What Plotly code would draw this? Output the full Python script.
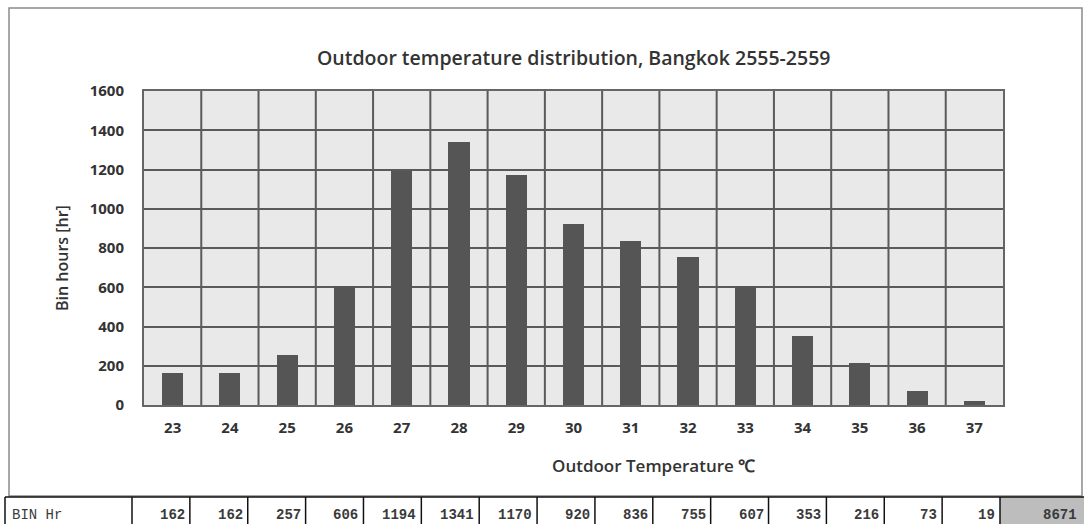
import plotly.graph_objects as go

# ---- data ----
temperatures = [23, 24, 25, 26, 27, 28, 29, 30, 31, 32, 33, 34, 35, 36, 37]
bin_hours = [162, 162, 257, 606, 1194, 1341, 1170, 920, 836, 755, 607, 353, 216, 73, 19]
y_ticks = [0, 200, 400, 600, 800, 1000, 1200, 1400, 1600]
title_text = "Outdoor temperature distribution, Bangkok 2555-2559"
x_title = "Outdoor Temperature ℃"
y_title = "Bin hours [hr]"
row_label = "BIN Hr"
total_hours = sum(bin_hours)

# ---- layout geometry (pixels) ----
W, H = 1084, 524
L, R, T, B = 144, 1003, 91, 405
pw, ph = R - L, B - T


def px(x):
    return (x - L) / pw


def py(y):
    return (B - y) / ph


GRID = "#5a5a5a"
TXT = "#333333"

fig = go.Figure()
fig.add_trace(go.Bar(
    x=temperatures, y=bin_hours, width=0.37,
    marker=dict(color="#555555", line=dict(width=0)),
    hoverinfo="x+y",
))

shapes = []
annotations = []

# outer chart frame
shapes.append(dict(type="rect", xref="paper", yref="paper",
                   x0=px(9), x1=px(1082), y0=py(496), y1=py(8),
                   line=dict(color="#8a8a8a", width=1.5), layer="below"))

# vertical grid lines between categories (data coordinates)
for t in temperatures[:-1]:
    shapes.append(dict(type="line", xref="x", yref="paper",
                       x0=t + 0.5, x1=t + 0.5, y0=0, y1=1,
                       line=dict(color=GRID, width=2), layer="below"))

# ---- bottom table ----
tbl_top, tbl_bot = 497, 540
first_left, first_right, last_right = 5, 132, 1000
cw = (last_right - first_right) / len(bin_hours)
# total cell fill
shapes.append(dict(type="rect", xref="paper", yref="paper",
                   x0=px(last_right), x1=px(1090), y0=py(tbl_bot), y1=py(tbl_top),
                   fillcolor="#bdbdbd", line=dict(width=0)))
shapes.append(dict(type="line", xref="paper", yref="paper",
                   x0=px(first_left), x1=px(1090), y0=py(tbl_top), y1=py(tbl_top),
                   line=dict(color="#111111", width=1.5)))
bounds = [first_left, first_right] + [first_right + cw * (i + 1) for i in range(len(bin_hours))]
for bx in bounds:
    shapes.append(dict(type="line", xref="paper", yref="paper",
                       x0=px(bx), x1=px(bx), y0=py(tbl_bot), y1=py(tbl_top),
                       line=dict(color="#111111", width=1.5)))

tfont = dict(family="Liberation Mono, DejaVu Sans Mono, monospace", size=14, color="#3a3a3a",
             weight="bold")
annotations.append(dict(xref="paper", yref="paper", x=px(10), y=py(515),
                        text=row_label, showarrow=False, xanchor="left", yanchor="middle",
                        font=dict(family="Liberation Mono, monospace", size=14, color="#3a3a3a")))
for i, v in enumerate(bin_hours):
    annotations.append(dict(xref="paper", yref="paper", x=px(bounds[i + 2] - 3), y=py(515),
                            text=str(v), showarrow=False, xanchor="right", yanchor="middle",
                            font=tfont))
annotations.append(dict(xref="paper", yref="paper", x=px(1079), y=py(515),
                        text=str(total_hours), showarrow=False, xanchor="right", yanchor="middle",
                        font=tfont))

# titles
annotations.append(dict(xref="paper", yref="paper", x=0.5, y=py(57),
                        text=title_text, showarrow=False, xanchor="center", yanchor="middle",
                        font=dict(family="Open Sans", size=19.5, color=TXT, weight=600)))
annotations.append(dict(xref="paper", yref="paper", x=px(653), y=py(465),
                        text=x_title, showarrow=False, xanchor="center", yanchor="middle",
                        font=dict(family="Open Sans", size=17, color=TXT, weight=600)))
annotations.append(dict(xref="paper", yref="paper", x=px(62), y=py(258),
                        text=y_title, showarrow=False, xanchor="center", yanchor="middle",
                        textangle=-90,
                        font=dict(family="Open Sans", size=16, color=TXT, weight=600)))

fig.update_layout(
    width=W, height=H,
    margin=dict(l=L, r=W - R, t=T, b=H - B, pad=0),
    paper_bgcolor="white",
    plot_bgcolor="#e9e9e9",
    showlegend=False,
    bargap=0,
    shapes=shapes,
    annotations=annotations,
    font=dict(family="Open Sans", color=TXT),
)
fig.update_xaxes(
    range=[temperatures[0] - 0.5, temperatures[-1] + 0.5],
    tickmode="array", tickvals=temperatures, ticktext=[str(t) for t in temperatures],
    showgrid=False, zeroline=False,
    showline=True, mirror=True, linecolor="#666666", linewidth=2,
    ticks="", ticklabelstandoff=8,
    tickfont=dict(family="Open Sans", size=15, color=TXT, weight="bold"),
    fixedrange=True,
)
fig.update_yaxes(
    range=[0, 1600], tickmode="array", tickvals=y_ticks,
    showgrid=True, gridcolor=GRID, gridwidth=2, zeroline=False,
    showline=True, mirror=True, linecolor="#666666", linewidth=2,
    ticks="", ticklabelstandoff=15,
    tickfont=dict(family="Open Sans", size=15, color=TXT, weight="bold"),
    fixedrange=True,
)

fig.write_html("out.html", config={"displayModeBar": False},
               post_script="document.body.style.margin='0';document.body.style.overflow='hidden';")
